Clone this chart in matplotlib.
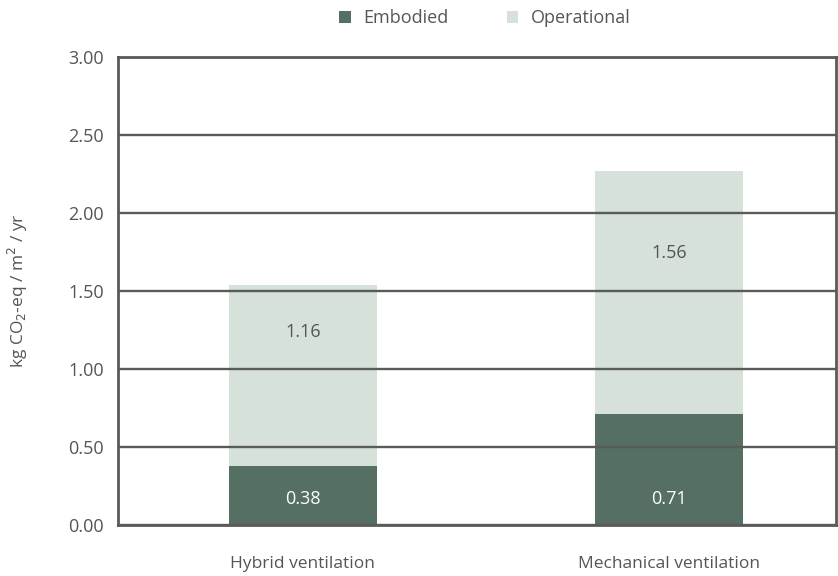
import matplotlib
matplotlib.use("Agg")
import matplotlib.pyplot as plt
import numpy as np

categories = ["Hybrid ventilation", "Mechanical ventilation"]
embodied = [0.38, 0.71]
operational = [1.16, 1.56]
yticks = [0.0, 0.5, 1.0, 1.5, 2.0, 2.5, 3.0]

plt.rcParams['font.family'] = ['Open Sans', 'DejaVu Sans']
dark = "#556f63"
light = "#d5e1d9"
textc = "#555555"
gridc = "#5a5a5a"

fig = plt.figure(figsize=(8.38, 5.76), dpi=100)
ax = fig.add_axes([118/838, 1-525/576, (836-118)/838, (525-57)/576])

x = np.arange(len(categories))
w = 0.404
ax.bar(x, embodied, w, color=dark, label="Embodied", zorder=1)
ax.bar(x, operational, w, bottom=embodied, color=light, label="Operational", zorder=1)

# label placement (fraction of axis height), as drawn in the reference
emb_label_y = [0.056, 0.056]
op_label_y = [0.412, 0.581]
for xi, e, o, ey, oy in zip(x, embodied, operational, emb_label_y, op_label_y):
    ax.text(xi, ey * 3.0, f"{e:.2f}", ha="center", va="center", color="white", fontsize=13, zorder=5)
    ax.text(xi, oy * 3.0, f"{o:.2f}", ha="center", va="center", color=textc, fontsize=13, zorder=5)

ax.set_xlim(-0.505, 1.457)
ax.set_ylim(0, 3.0)
ax.set_yticks(yticks)
ax.set_yticklabels([f"{t:.2f}" for t in yticks], fontsize=13, color=textc)
ax.set_xticks(x)
ax.set_xticklabels(categories, fontsize=12.5, color=textc)
ax.tick_params(axis="y", length=0, pad=10)
ax.tick_params(axis="x", length=0, pad=22)
ax.yaxis.grid(True, color=gridc, linewidth=1.7, zorder=3)
ax.set_axisbelow(False)
for s in ax.spines.values():
    s.set_color(gridc)
    s.set_linewidth(2)
    s.set_zorder(4)
ax.set_ylabel("kg CO$_2$-eq / m$^2$ / yr", fontsize=12.5, color=textc, labelpad=28)

leg = fig.legend(loc="center", bbox_to_anchor=(485/838, 1-18/576), ncol=2, frameon=False,
                 fontsize=13, handlelength=0.65, handleheight=0.65, columnspacing=3.2, handletextpad=0.7)
for t in leg.get_texts():
    t.set_color(textc)

fig.savefig("out.png", dpi=100)
